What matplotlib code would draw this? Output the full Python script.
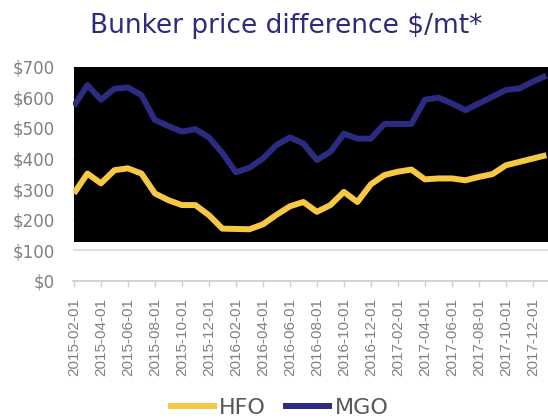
import matplotlib
matplotlib.use("Agg")
import matplotlib.pyplot as plt
from matplotlib.patches import Rectangle
import pandas as pd

# Monthly bunker price differences, USD per metric tonne
months = pd.date_range("2015-02-01", "2018-01-01", freq="MS")
hfo = [286, 351, 319, 362, 368, 351, 286, 264, 248, 248, 215, 171,
       170, 169, 185, 216, 244, 258, 226, 248, 291, 258, 316, 346,
       357, 364, 332, 335, 335, 329, 340, 349, 378, 389, 400, 411]
mgo = [572, 640, 592, 628, 632, 607, 526, 506, 488, 496, 469, 418,
       355, 370, 400, 444, 469, 449, 395, 422, 481, 465, 465, 513,
       513, 513, 592, 599, 580, 558, 580, 602, 624, 629, 651, 671]
y_ticks = [0, 100, 200, 300, 400, 500, 600, 700]
y_labels = ["$0", "$100", "$200", "$300", "$400", "$500", "$600", "$700"]
tick_idx = list(range(0, 35, 2))
tick_labels = [months[i].strftime("%Y-%m-%d") for i in tick_idx]

HFO_COLOR = "#f7c843"
MGO_COLOR = "#2b2b82"
GRAY = "#808080"

fig = plt.figure(figsize=(5.48, 4.20), dpi=100)
ax = fig.add_axes([73 / 548, 139 / 420, 475 / 548, 214.3 / 420])

x = list(range(len(months)))
ax.set_xlim(-0.07, 35.12)
ax.set_ylim(0, 700)

# dark panel behind the lines
ax.add_patch(Rectangle((0, 128), 40, 572, facecolor="black",
                       edgecolor="none", zorder=1))

ax.plot(x, hfo, color=HFO_COLOR, lw=4.3, solid_joinstyle="round",
        solid_capstyle="butt", zorder=3, label="HFO")
ax.plot(x, mgo, color=MGO_COLOR, lw=4.3, solid_joinstyle="round",
        solid_capstyle="butt", zorder=3, label="MGO")

ax.set_yticks(y_ticks)
ax.set_yticklabels(y_labels)
ax.grid(axis="y", color="#d9d9d9", lw=1.2, zorder=0)
ax.set_axisbelow(True)

ax.set_xticks(tick_idx)
ax.set_xticklabels(tick_labels, rotation=90, family="Liberation Sans",
                   fontsize=11, color=GRAY)

for side in ["top", "right", "left"]:
    ax.spines[side].set_visible(False)
ax.spines["bottom"].set_color("#d0d0d0")
ax.spines["bottom"].set_linewidth(1.2)

ax.tick_params(axis="y", length=0, pad=13, labelsize=12, labelcolor=GRAY)
ax.tick_params(axis="x", length=4, width=1, color="#d0d0d0", pad=8)

fig.text(286 / 548, (420 - 33.3) / 420, "Bunker price difference $/mt*",
         ha="center", va="baseline", fontsize=19, color="#2d2b7a")

fig.legend(loc="center", bbox_to_anchor=(278 / 548, 12 / 420), ncol=2,
           frameon=False, fontsize=16, handlelength=2.2, handletextpad=0.1,
           columnspacing=0.8, labelcolor="#595959", borderpad=0.1)

fig.savefig("out.png", dpi=100)
